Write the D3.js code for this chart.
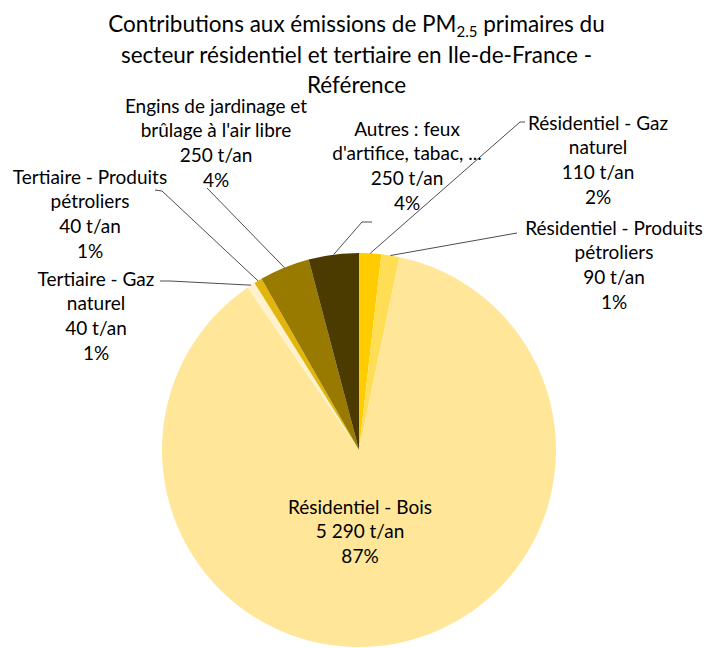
<!DOCTYPE html>
<html lang="fr">
<head>
<meta charset="utf-8">
<script src="https://cdn.jsdelivr.net/npm/d3@7"></script>
<style>
  html, body { margin: 0; padding: 0; background: #fff; }
  svg { display: block; font-family: Lato, "Open Sans", sans-serif; }
</style>
</head>
<body>
<svg id="chart" width="707" height="648"></svg>
<script>
// Sources of primary PM2.5 emissions, clockwise from 12 o'clock
const categories = [
  "Résidentiel - Gaz naturel",
  "Résidentiel - Produits pétroliers",
  "Résidentiel - Bois",
  "Tertiaire - Gaz naturel",
  "Tertiaire - Produits pétroliers",
  "Engins de jardinage et brûlage à l'air libre",
  "Autres : feux d'artifice, tabac, ..."
];
// Emissions in tonnes per year
const emissions = [110, 90, 5290, 40, 40, 250, 250];
// Label text, wrapped line by line
const labelLines = [
  ["Résidentiel - Gaz", "naturel"],
  ["Résidentiel - Produits", "pétroliers"],
  ["Résidentiel - Bois"],
  ["Tertiaire - Gaz", "naturel"],
  ["Tertiaire - Produits", "pétroliers"],
  ["Engins de jardinage et", "brûlage à l'air libre"],
  ["Autres : feux", "d'artifice, tabac, ..."]
];
const sliceColors = ["#FFCC00", "#FFDD55", "#FFE699", "#FFF2CC", "#E2B50C", "#997A00", "#4B3B00"];

const svg = d3.select("#chart");
const W = 707, cx = 359, cy = 450, R = 197;

// Title
const title = svg.append("text")
  .attr("text-anchor", "middle")
  .attr("font-size", 22.5)
  .attr("fill", "#000");
title.append("tspan").attr("x", W / 2 + 3).attr("y", 32).text("Contributions aux émissions de PM");
title.append("tspan").attr("font-size", 15).attr("dy", 5).text("2.5");
title.append("tspan").attr("dy", -5).text(" primaires du");
title.append("tspan").attr("x", W / 2 + 3).attr("y", 63).text("secteur résidentiel et tertiaire en Ile-de-France -");
title.append("tspan").attr("x", W / 2 + 3).attr("y", 93).text("Référence");

// Pie
const fr = d3.formatLocale({ decimal: ",", thousands: "\u00a0", grouping: [3], currency: ["", " €"] });
const fmtT = fr.format(",d");
const total = d3.sum(emissions);
const rows = categories.map((c, i) => ({ name: c, value: emissions[i], lines: labelLines[i], color: sliceColors[i] }));

const pie = d3.pie().value(d => d.value).sort(null);
const arcs = pie(rows);
const arc = d3.arc().innerRadius(0).outerRadius(R);
const edgeArc = d3.arc().innerRadius(R).outerRadius(R);

const g = svg.append("g").attr("transform", `translate(${cx},${cy})`);
g.selectAll("path.slice")
  .data(arcs)
  .join("path")
  .attr("class", "slice")
  .attr("d", arc)
  .attr("fill", d => d.data.color);

// Label placement: text centre x, first line centre y, leader start points
const labelLayout = [
  { x: 598, y: 123, lead: [[525, 122], [520, 122]] },
  { x: 614, y: 228, lead: [[517, 233]] },
  { x: 360, y: 507, lead: null },
  { x: 96,  y: 279, lead: [[160, 281], [170, 281]] },
  { x: 90,  y: 177, lead: [[155, 190], [162, 191]] },
  { x: 216, y: 106, lead: [[207, 188]] },
  { x: 407, y: 129, lead: [[372, 222], [362, 222]] }
];
const lineGap = 24.7;

arcs.forEach((a, i) => {
  const L = labelLayout[i];
  const pct = Math.round(a.data.value / total * 100) + "%";
  const lines = a.data.lines.concat([fmtT(a.data.value) + " t/an", pct]);
  const t = svg.append("text")
    .attr("text-anchor", "middle")
    .attr("font-size", 19)
    .attr("fill", "#000");
  lines.forEach((s, k) => {
    t.append("tspan").attr("x", L.x).attr("y", L.y + k * lineGap).attr("dy", "0.35em").text(s);
  });
  if (L.lead) {
    const [ex, ey] = edgeArc.centroid(a);
    const pts = L.lead.concat([[cx + ex, cy + ey]]);
    svg.append("path")
      .attr("d", d3.line()(pts))
      .attr("fill", "none")
      .attr("stroke", "#4d4d4d")
      .attr("stroke-width", 1);
  }
});
</script>
</body>
</html>
